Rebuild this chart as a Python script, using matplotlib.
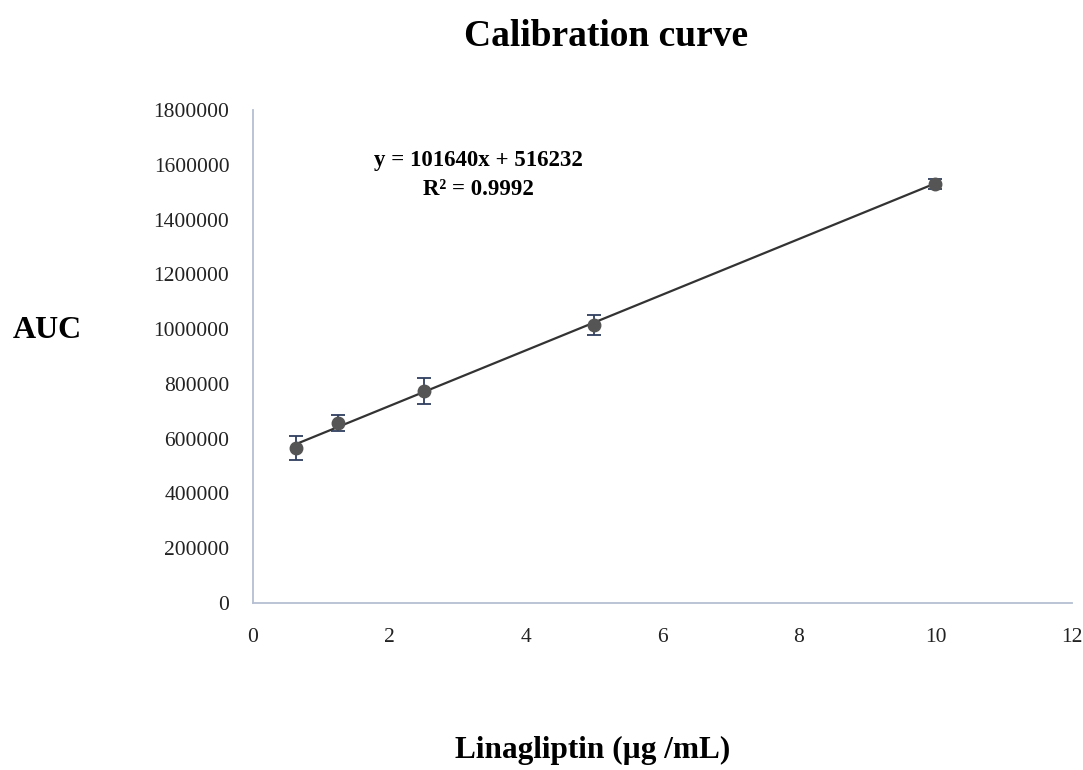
import numpy as np
import matplotlib.pyplot as plt

# concentrations and measured peak areas
conc = [0.625, 1.25, 2.5, 5, 10]
auc = [566000, 656000, 775000, 1015000, 1530000]
auc_err = [45000, 29000, 48000, 36000, 18000]

slope = 101640
intercept = 516232
xticks = [0, 2, 4, 6, 8, 10, 12]
yticks = [0, 200000, 400000, 600000, 800000, 1000000, 1200000, 1400000, 1600000, 1800000]

plt.rcParams['font.family'] = ['Liberation Serif', 'DejaVu Serif']

fig = plt.figure(figsize=(10.83, 7.7), dpi=100)
ax = fig.add_axes([0.2336, 0.2169, 0.7562, 0.6401])

# trendline
xl = np.array([conc[0], conc[-1]])
ax.plot(xl, slope * xl + intercept, color='#333333', lw=1.6, zorder=2)

ax.errorbar(conc, auc, yerr=auc_err, fmt='o', color='#555555', ms=9,
            ecolor='#2f3f5f', elinewidth=1.3, capsize=5, capthick=1.3, zorder=3)

ax.set_xlim(0, 12)
ax.set_ylim(0, 1800000)
ax.set_xticks(xticks)
ax.set_yticks(yticks)
ax.set_xticklabels([str(t) for t in xticks])
ax.set_yticklabels([str(t) for t in yticks])
ax.tick_params(length=0, labelsize=15.5, labelcolor='#222222')
ax.tick_params(axis='x', pad=18)
ax.tick_params(axis='y', pad=17)

for s in ['top', 'right']:
    ax.spines[s].set_visible(False)
for s in ['left', 'bottom']:
    ax.spines[s].set_color('#b4bfd2')
    ax.spines[s].set_linewidth(1.3)

ax.text(0.275, 0.868, "y = 101640x + 516232\nR² = 0.9992", transform=ax.transAxes,
        ha='center', va='center', fontsize=16.5, fontweight='bold', linespacing=1.5)

fig.text(0.56, 0.952, "Calibration curve", ha='center', va='center',
         fontsize=27, fontweight='bold')
fig.text(0.044, 0.571, "AUC", ha='center', va='center', fontsize=23, fontweight='bold')
fig.text(0.547, 0.026, "Linagliptin (µg /mL)", ha='center', va='center',
         fontsize=22.5, fontweight='bold')

plt.savefig("out.png", dpi=100)
